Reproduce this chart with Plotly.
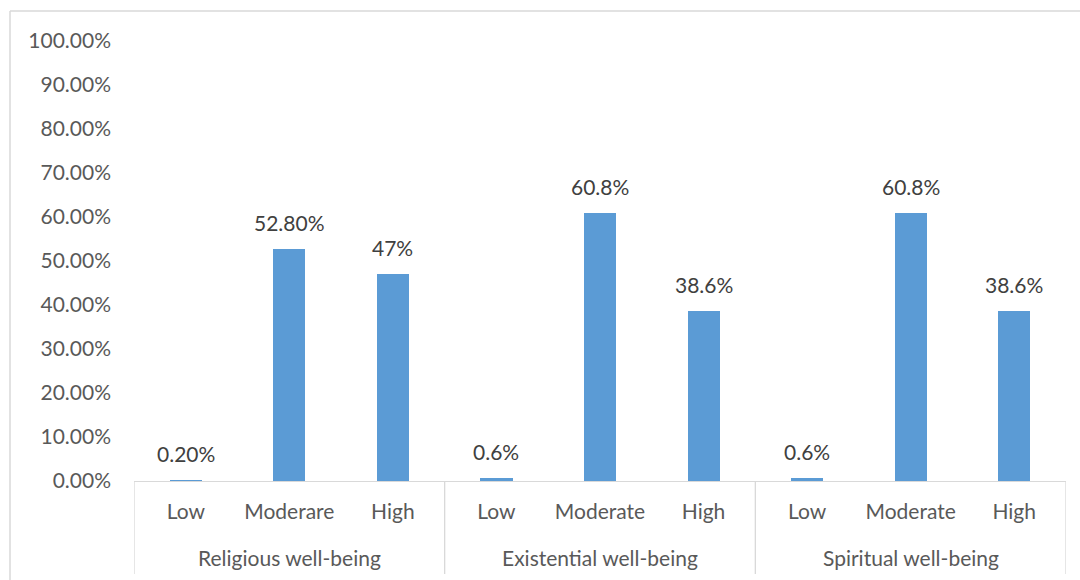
import plotly.graph_objects as go

groups = ["Religious well-being", "Existential well-being", "Spiritual well-being"]
levels = [["Low", "Moderare", "High"], ["Low", "Moderate", "High"], ["Low", "Moderate", "High"]]
values = [0.002, 0.528, 0.47, 0.006, 0.608, 0.386, 0.006, 0.608, 0.386]
value_labels = ["0.20%", "52.80%", "47%", "0.6%", "60.8%", "38.6%", "0.6%", "60.8%", "38.6%"]
y_ticks = [0, 0.1, 0.2, 0.3, 0.4, 0.5, 0.6, 0.7, 0.8, 0.9, 1.0]
y_tick_text = ["0.00%", "10.00%", "20.00%", "30.00%", "40.00%", "50.00%",
               "60.00%", "70.00%", "80.00%", "90.00%", "100.00%"]

cats = [c for g in levels for c in g]
xpos = list(range(len(cats)))

FONT = "Lato, 'Open Sans', sans-serif"
TXT = "#595959"
LINE = "#D9D9D9"
FS = 21

fig = go.Figure()
fig.add_trace(go.Bar(x=xpos, y=values, width=0.31, marker_color="#5B9BD5",
                     marker_line_width=0, hoverinfo="skip"))

W, H = 1080, 580
ml, mr, mt, mb = 134, 14, 41, 99
pw, ph = W - ml - mr, H - mt - mb

annotations = []
for x, v, t in zip(xpos, values, value_labels):
    annotations.append(dict(x=x, y=v, xref="x", yref="y", text=t, showarrow=False,
                            yanchor="bottom", yshift=12,
                            font=dict(family=FONT, size=FS, color="#404040")))
for gi, g in enumerate(groups):
    annotations.append(dict(x=gi * 3 + 1, y=(481 - 557) / ph, xref="x", yref="paper",
                            text=g, showarrow=False, yanchor="middle",
                            font=dict(family=FONT, size=FS, color=TXT)))

shapes = []
for d in [-0.5, 2.5, 5.5, 8.5]:
    shapes.append(dict(type="line", xref="x", yref="paper", x0=d, x1=d,
                       y0=0, y1=(481 - 574) / ph, line=dict(color=LINE, width=1.3)))
# chart border (top and left)
shapes.append(dict(type="line", xref="paper", yref="paper",
                   x0=(10 - ml) / pw, x1=(1090 - ml) / pw,
                   y0=(481 - 11) / ph, y1=(481 - 11) / ph, line=dict(color=LINE, width=1.5)))
shapes.append(dict(type="line", xref="paper", yref="paper",
                   x0=(10 - ml) / pw, x1=(10 - ml) / pw,
                   y0=(481 - 11) / ph, y1=(481 - 590) / ph, line=dict(color=LINE, width=1.5)))

fig.update_layout(
    width=W, height=H,
    margin=dict(l=ml, r=mr, t=mt, b=mb),
    paper_bgcolor="white", plot_bgcolor="white",
    showlegend=False, bargap=0,
    font=dict(family=FONT, size=FS, color=TXT),
    xaxis=dict(range=[-0.5, 8.5], tickvals=xpos, ticktext=cats, showgrid=False,
               zeroline=False, showline=True, linecolor=LINE, linewidth=1.3,
               ticks="", ticklabelstandoff=12, fixedrange=True,
               tickfont=dict(family=FONT, size=FS, color=TXT)),
    yaxis=dict(range=[0, 1], tickvals=y_ticks, ticktext=y_tick_text, showgrid=False,
               zeroline=False, showline=False, ticks="", ticklabelstandoff=22,
               tickfont=dict(family=FONT, size=FS, color=TXT)),
    annotations=annotations, shapes=shapes,
)

fig.write_html("out.html")
